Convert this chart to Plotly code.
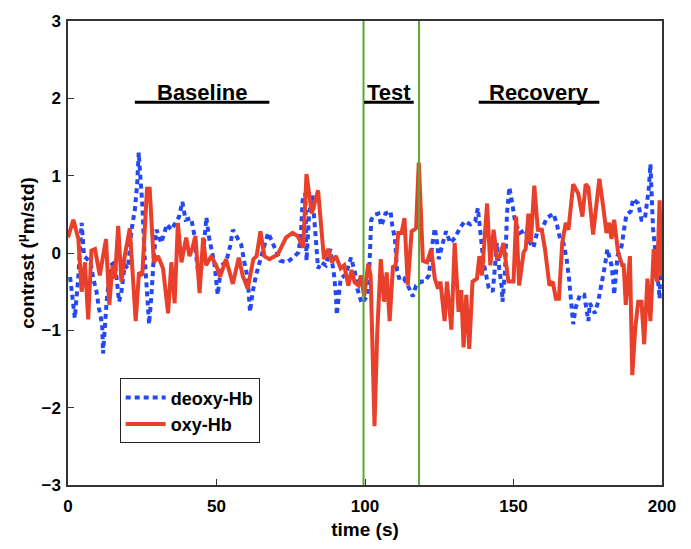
import plotly.graph_objects as go

# ---- data ----
oxy_t = [0, 1.8, 3.5, 4.6, 5.7, 6.8, 7.9, 9.1, 10.7, 12.8, 13.9, 15, 15.8, 16.9, 18, 19.1, 20.8,
         22.8, 23.9, 25, 26.6, 27.5, 28.9, 30.3, 32, 33.7, 34.8, 35.9, 37, 38.2, 39.8, 40.9, 41.8,
         42.9, 44.3, 45.5, 46.5, 48.2, 49.9, 51.2, 53.2, 55.5, 57.5, 58.8, 60.5, 62.4, 63.5, 64.8,
         66.1, 67.8, 70.6, 73.4, 75.6, 77.3, 79.2, 80.3, 82.1, 84.2, 86.2, 87.6, 88.8, 90.2, 91.8,
         93, 94.4, 95.5, 96.5, 97.8, 98.6, 99.7, 101.1, 101.9, 103.2, 104.1, 105.3, 106.4, 107.3,
         108.3, 109.4, 110.3, 111.2, 112.3, 113.3, 114.4, 115.7, 117.2, 118.1, 119.5, 120.9, 122.3,
         123.5, 124.6, 125.4, 126.8, 127.6, 129.1, 130.2, 131.5, 132.4, 133.2, 134.1, 135.1, 136.2,
         137.7, 138.5, 139.4, 141.1, 142.2, 143.3, 144.4, 145.5, 146.6, 148.3, 150, 150.9, 151.9,
         153.4, 154.1, 155, 155.8, 157, 158.2, 159.5, 160.6, 162.1, 163.2, 164.3, 165.3, 166.4,
         167.6, 168.5, 170.1, 171.8, 173.2, 174.3, 175.2, 176.8, 178.9, 180.2, 181.3, 182.2, 183,
         183.9, 185.2, 186.6, 187.1, 187.8, 189.2, 190, 191, 192, 193.1, 194, 195.1, 196.1, 197.2,
         198.3, 199.2, 199.8]
oxy_v = [0.2, 0.43, 0.18, -0.5, -0.12, -0.86, 0.03, 0.05, -0.29, 0.18, -0.67, -0.16, -0.33, 0.35,
         -0.37, -0.04, 0.32, -0.88, -0.25, -0.29, 0.83, 0.83, -0.12, -0.04, -0.2, -0.78, -0.12,
         -0.65, 0.39, -0.12, 0.2, -0.04, 0.05, 0.22, -0.52, 0.2, -0.16, -0.04, -0.16, -0.31, -0.08,
         -0.4, -0.06, -0.29, -0.46, -0.08, -0.04, 0.28, -0.04, -0.08, -0.02, 0.2, 0.26, 0.22, 0.07,
         1.02, 0.51, 0.81, -0.08, 0.05, -0.12, -0.04, -0.2, -0.16, -0.42, -0.22, -0.38, -0.42,
         -0.29, -0.56, -0.14, -0.29, -2.24, -1.05, -0.08, -0.63, -0.25, -0.88, -0.18, -0.16, 0.26,
         0.26, 0.45, -0.42, 0.28, 0.32, 1.17, -0.1, -0.12, 0.05, -0.33, -0.46, -0.37, -0.88, -0.37,
         -0.99, 0.13, -0.76, -0.48, -1.22, -0.54, -1.24, -0.37, -0.33, -0.04, -0.29, 0.64, -0.16,
         0.3, -0.06, -0.04, 0.13, -0.37, -0.37, 0.47, -0.42, 0.01, 0.05, 0.51, 0.13, 0.87, 0.3, 0.3,
         0.05, -0.42, -0.37, -0.59, -0.59, 0.13, 0.39, 0.3, 0.89, 0.77, 0.47, 0.89, 0.85, 0.24, 0.96,
         0.6, 0.26, 0.39, 0.18, 0.43, 0.01, -0.16, -0.16, -0.67, -0.04, -1.58, -0.97, -0.63, -0.63,
         -1.18, -0.33, -0.88, 0.05, -0.37, 0.68, -0.29]

deoxy_t = [0.7, 1.3, 2.3, 3.5, 4.2, 4.6, 5.4, 6.5, 7.6, 8.5, 9.6, 10.4, 11.5, 11.8, 13, 14.3, 15.8,
           17.2, 18, 19.1, 20.2, 21.4, 22.5, 23.3, 23.8, 24.3, 25, 25.8, 26.6, 27.3, 28.1, 28.9,
           29.8, 31.4, 33.3, 34.8, 35.9, 37.4, 38.5, 39.6, 41.5, 42.6, 43.4, 44.3, 45.4, 46.6, 47.4,
           48.2, 49.3, 50.4, 51.6, 53.2, 54.6, 55.5, 56.8, 58.3, 59.4, 60.5, 61.3, 62.2, 63.3, 64.4,
           65.9, 67.4, 69.5, 71.5, 73.6, 75.9, 77.6, 78.4, 79, 79.9, 80.3, 81.2, 82.3, 82.9, 83.5,
           84.2, 85.3, 86.8, 88.3, 89.6, 90.2, 90.5, 91.8, 93.5, 95.3, 96.6, 97.4, 98.9, 101.1,
           101.7, 102.1, 103, 104.5, 105.5, 106.9, 108.6, 109.2, 110.1, 110.8, 111.7, 113.1, 114.4,
           116.1, 117.2, 119, 120.1, 121.5, 122.6, 123.5, 124.3, 124.8, 125.9, 127.3, 128.7, 130.4,
           131.9, 133.6, 135.5, 137.1, 138, 138.8, 139.9, 141.6, 143, 143.9, 144.4, 145.2, 146.1,
           146.3, 147.2, 147.8, 148.6, 149.4, 150.6, 152.2, 153.9, 155.6, 156.7, 158.2, 159.5,
           161.2, 163.4, 164.5, 165.7, 166.8, 167.9, 168.7, 169.4, 170.1, 170.9, 172.4, 173.8,
           174.6, 175.2, 175.7, 177.4, 178.5, 179.9, 180.8, 181.6, 183, 183.6, 183.9, 185, 186.4,
           187.2, 188, 189.5, 190.3, 192, 193.1, 194.2, 195, 195.6, 196.1, 196.4, 197, 197.7, 198.7,
           199.2, 199.6]
deoxy_v = [-0.31, -0.54, -0.84, -0.29, 0.2, 0.39, -0.04, -0.08, -0.12, -0.33, -0.5, -0.71, -0.92,
           -1.3, -0.63, -0.16, -0.12, -0.63, -0.5, -0.16, -0.2, 0.3, 0.56, 0.89, 1.3, 1.02, 0.64,
           -0.04, -0.63, -0.92, -0.54, -0.04, 0.3, 0.13, 0.37, 0.3, 0.37, 0.47, 0.66, 0.43, 0.45,
           0.22, -0.12, -0.37, -0.04, 0.46, 0.22, 0.05, -0.14, -0.54, -0.16, -0.12, 0.09, 0.3, 0.2,
           0.11, -0.12, -0.33, -0.76, -0.5, -0.29, -0.12, 0.07, 0.26, 0.09, -0.1, -0.12, -0.06, 0.01,
           0.22, 0.68, 0.77, -0.1, 0.51, 0.75, 0.39, 0.09, -0.2, -0.12, -0.16, 0.05, -0.29, -0.54,
           -0.8, -0.33, -0.28, -0.06, -0.25, -0.46, -0.65, -0.54, 0.05, 0.43, 0.49, 0.51, 0.35, 0.51,
           0.54, 0.35, 0.18, -0.23, -0.35, -0.33, -0.42, -0.56, -0.42, -0.37, -0.37, -0.29, 0.09,
           0.32, 0.13, -0.08, 0.09, 0.28, 0.13, 0.2, 0.32, 0.41, 0.37, 0.41, 0.58, 0.3, -0.12, -0.44,
           -0.5, -0.12, 0.13, -0.2, -0.46, -0.63, -0.2, 0.51, 0.85, 0.68, 0.39, 0.26, 0.3, 0.13,
           0.07, 0.3, 0.3, 0.45, 0.51, 0.39, 0.18, 0.13, -0.08, -0.33, -0.67, -0.92, -0.71, -0.54,
           -0.54, -0.76, -0.88, -0.65, -0.78, -0.63, -0.37, -0.16, 0.05, -0.16, -0.37, -0.54, -0.04,
           0.09, 0.3, 0.49, 0.54, 0.7, 0.64, 0.43, 0.43, 0.64, 0.85, 1.15, 0.73, 0.3, 0.05, -0.33,
           -0.59, 0.22]

test_bounds = [99.5, 118.2]
phase_names = ["Baseline", "Test", "Recovery"]
phase_start = [22.5, 99.7, 138.3]
phase_end = [67.8, 116.4, 178.9]
phase_level = 1.95

x_ticks = [0, 50, 100, 150, 200]
y_ticks = [-3, -2, -1, 0, 1, 2, 3]

FONT = "Liberation Sans, Arial, Helvetica, sans-serif"
RED = "#E8402A"
BLUE = "#2448F2"
GREEN = "#5BA836"

fig = go.Figure()
fig.add_trace(go.Scatter(x=deoxy_t, y=deoxy_v, mode="lines", name="deoxy-Hb",
                         line=dict(color=BLUE, width=4, dash="5px,4px")))
fig.add_trace(go.Scatter(x=oxy_t, y=oxy_v, mode="lines", name="oxy-Hb",
                         line=dict(color=RED, width=4)))

for xb in test_bounds:
    fig.add_shape(type="line", xref="x", yref="paper", x0=xb, x1=xb, y0=0, y1=1,
                  line=dict(color=GREEN, width=2), layer="above")

for name, s, e in zip(phase_names, phase_start, phase_end):
    fig.add_shape(type="line", xref="x", yref="y", x0=s, x1=e, y0=phase_level, y1=phase_level,
                  line=dict(color="black", width=3))
    fig.add_annotation(x=(s + e) / 2, y=phase_level, xref="x", yref="y", text=name,
                       showarrow=False, yanchor="bottom", yshift=-5,
                       font=dict(family=FONT, size=22, color="black", weight="bold"))

axis_common = dict(showline=True, mirror=True, linecolor="#333333", linewidth=1.5,
                   ticks="inside", ticklen=6, tickcolor="#333333", showgrid=False, zeroline=False,
                   tickfont=dict(family=FONT, size=17, color="black", weight="bold"))

fig.update_xaxes(range=[0, 200], tickvals=x_ticks, ticklabelstandoff=5, **axis_common,
                 title=dict(text="time (s)", standoff=8,
                            font=dict(family=FONT, size=19, color="black", weight="bold")))
fig.update_yaxes(range=[-3, 3], tickvals=y_ticks, ticklabelstandoff=2, **axis_common,
                 title=dict(text="contrast (<sup>μ</sup>m/std)", standoff=2,
                            font=dict(family=FONT, size=19, color="black", weight="bold")))

fig.update_layout(
    width=691, height=549,
    margin=dict(l=68, r=29, t=12, b=57),
    paper_bgcolor="white", plot_bgcolor="white",
    showlegend=True,
    legend=dict(x=0.087, y=0.23, xanchor="left", yanchor="top",
                bgcolor="white", bordercolor="#222222", borderwidth=1,
                font=dict(family=FONT, size=18, color="black", weight="bold"),
                tracegroupgap=0, itemwidth=40),
)

fig.write_html("out.html")
